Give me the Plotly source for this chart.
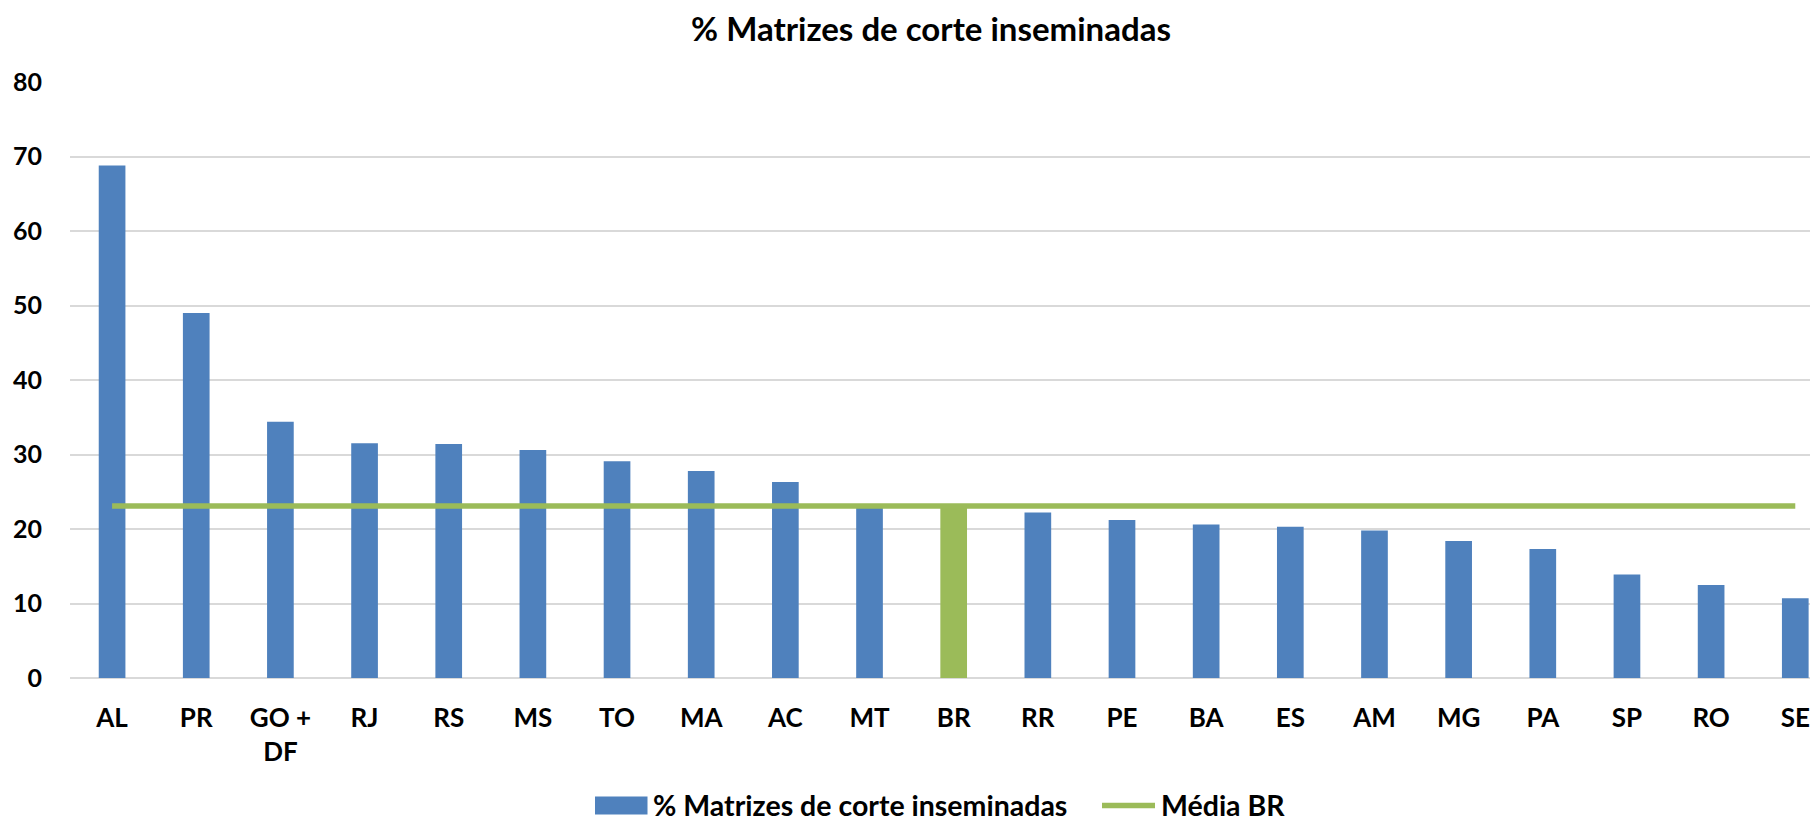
import plotly.graph_objects as go

categories = ["AL", "PR", "GO + DF", "RJ", "RS", "MS", "TO", "MA", "AC", "MT", "BR",
              "RR", "PE", "BA", "ES", "AM", "MG", "PA", "SP", "RO", "SE"]
tick_labels = ["AL", "PR", "GO +<br>DF", "RJ", "RS", "MS", "TO", "MA", "AC", "MT", "BR",
               "RR", "PE", "BA", "ES", "AM", "MG", "PA", "SP", "RO", "SE"]
pct_inseminadas = [68.8, 49.0, 34.4, 31.5, 31.4, 30.6, 29.1, 27.8, 26.3, 23.0, 23.1,
                   22.2, 21.2, 20.6, 20.3, 19.8, 18.4, 17.3, 13.9, 12.5, 10.7]
media_br = [23.1, 23.1, 23.1, 23.1, 23.1, 23.1, 23.1, 23.1, 23.1, 23.1, 23.1,
            23.1, 23.1, 23.1, 23.1, 23.1, 23.1, 23.1, 23.1, 23.1, 23.1]
y_ticks = [0, 10, 20, 30, 40, 50, 60, 70, 80]
series_names = ["% Matrizes de corte inseminadas", "Média BR"]

BLUE = "#4F81BD"
GREEN = "#9BBB59"
bar_colors = [GREEN if c == "BR" else BLUE for c in categories]

# figure geometry (page body has an 8px margin)
W, H = 1810, 817
ML, MR, MT, MB = 62, 0, 74, 146.5
PW, PH = W - ML - MR, H - MT - MB


def px_x(px):
    return (px - ML) / PW


def px_y(py):
    return (H - MB - py) / PH


fig = go.Figure()
fig.add_trace(go.Bar(
    x=categories, y=pct_inseminadas, name=series_names[0],
    marker=dict(color=bar_colors, line=dict(width=0)), showlegend=False,
))
fig.add_trace(go.Scatter(
    x=categories, y=media_br, name=series_names[1], mode="lines",
    line=dict(color=GREEN, width=5.5), showlegend=False,
))

# manual legend
leg_y = 798
shapes = [
    dict(type="rect", xref="paper", yref="paper",
         x0=px_x(587), x1=px_x(639.5), y0=px_y(leg_y + 9), y1=px_y(leg_y - 9),
         fillcolor=BLUE, line=dict(width=0)),
    dict(type="line", xref="paper", yref="paper",
         x0=px_x(1094), x1=px_x(1147), y0=px_y(leg_y), y1=px_y(leg_y),
         line=dict(color=GREEN, width=5.5)),
]
annotations = [
    dict(text="<b>" + series_names[0] + "</b>", xref="paper", yref="paper",
         x=px_x(643), y=px_y(leg_y), xanchor="left", yanchor="middle",
         showarrow=False, font=dict(family="Lato", size=28.5, color="black")),
    dict(text="<b>" + series_names[1] + "</b>", xref="paper", yref="paper",
         x=px_x(1151), y=px_y(leg_y), xanchor="left", yanchor="middle",
         showarrow=False, font=dict(family="Lato", size=28.5, color="black")),
]

fig.update_layout(
    width=W, height=H,
    paper_bgcolor="white", plot_bgcolor="white",
    margin=dict(l=ML, r=MR, t=MT, b=MB, autoexpand=False),
    bargap=0.683,
    title=dict(text="<b>% Matrizes de corte inseminadas</b>",
               x=923 / W, xref="container", xanchor="center",
               y=1 - 21 / H, yref="container", yanchor="middle",
               font=dict(family="Lato", size=33, color="black")),
    showlegend=False,
    shapes=shapes,
    annotations=annotations,
)
fig.update_xaxes(
    tickmode="array", tickvals=categories, ticktext=tick_labels,
    range=[-0.5, 20.27],
    tickfont=dict(family="Lato", size=26, color="black", weight="bold"),
    showgrid=False, showline=False, ticks="", ticklabelstandoff=22,
)
fig.update_yaxes(
    range=[0, 80], tickvals=y_ticks,
    tickfont=dict(family="Lato", size=25, color="black", weight="bold"),
    showgrid=True, gridcolor="#D9D9D9", gridwidth=2,
    zeroline=True, zerolinecolor="#D9D9D9", zerolinewidth=2,
    ticks="", ticklabelstandoff=27,
)

fig.write_html("out.html")
